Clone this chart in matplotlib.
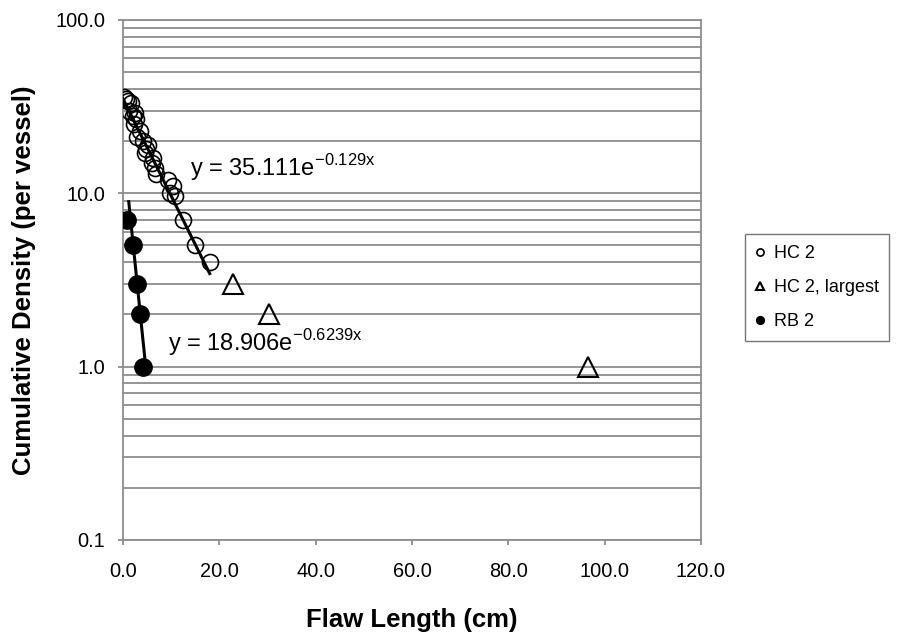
import matplotlib

matplotlib.use("Agg")
import matplotlib.pyplot as plt
import numpy as np
from matplotlib.ticker import FuncFormatter, LogLocator, NullFormatter

plt.rcParams["font.family"] = ["Liberation Sans", "DejaVu Sans"]

# HC 2 flaws: length (cm) vs cumulative count per vessel
hc2_len = [0.2, 0.6, 1.0, 1.6, 1.2, 2.4, 2.1, 2.8, 2.2, 3.6, 2.9, 4.2, 5.2,
           4.8, 4.6, 6.3, 6.0, 6.7, 6.9, 9.4, 10.4, 9.8, 10.8, 12.4, 14.9, 18.0]
hc2_dens = [36, 35, 34, 33, 30, 29, 28, 27, 25, 23, 21, 20, 19,
            18, 17, 16, 15, 14, 13, 12, 11, 10, 9.6, 7, 5, 4]

# HC 2, largest flaws
hc2l_len = [22.9, 30.4, 96.5]
hc2l_dens = [3, 2, 1]

# RB 2 flaws
rb2_len = [0.9, 2.1, 3.0, 3.5, 4.2]
rb2_dens = [7, 5, 3, 2, 1]

# exponential fits y = a * exp(b * x) and the x span each is drawn over
hc2_fit = (35.111, -0.129, 0.0, 18.0)
rb2_fit = (18.906, -0.6239, 1.2, 4.57)

fig = plt.figure(figsize=(9.01, 6.36), dpi=100)
ax = fig.add_axes([0.1365, 0.151, 0.6415, 0.8176])

grid_c = "#8c8c8c"
for a, b, x0, x1 in (hc2_fit, rb2_fit):
    xs = np.linspace(x0, x1, 50)
    ax.plot(xs, a * np.exp(b * xs), color="black", lw=2.2, zorder=3)

ax.plot(hc2_len, hc2_dens, "o", ms=11.5, mfc="none", mec="black", mew=1.2,
        label="HC 2", zorder=4)
ax.plot(hc2l_len, hc2l_dens, "^", ms=14, mfc="none", mec="black", mew=1.5,
        label="HC 2, largest", zorder=4)
ax.plot(rb2_len, rb2_dens, "o", ms=12.5, mfc="black", mec="black",
        label="RB 2", zorder=4)

ax.set_yscale("log")
ax.set_xlim(0, 120)
ax.set_ylim(0.1, 100)
ax.set_xticks(np.arange(0, 121, 20))
ax.xaxis.set_major_formatter(FuncFormatter(lambda v, p: f"{v:.1f}"))
ax.yaxis.set_major_locator(LogLocator(base=10, numticks=10))
ax.yaxis.set_major_formatter(FuncFormatter(lambda v, p: f"{v:.1f}"))
ax.yaxis.set_minor_locator(LogLocator(base=10, subs=range(2, 10), numticks=20))
ax.yaxis.set_minor_formatter(NullFormatter())

ax.grid(True, axis="y", which="both", color=grid_c, lw=1.3)
ax.tick_params(axis="y", which="minor", length=0)
ax.tick_params(axis="both", which="major", labelsize=14.4, length=3.6,
               color=grid_c, width=1.3, direction="out")
ax.tick_params(axis="x", pad=12)
ax.tick_params(axis="y", pad=9)
for s in ax.spines.values():
    s.set_color(grid_c)
    s.set_linewidth(1.3)

ax.text(13.9, 14, r"y = 35.111e$^{\mathregular{-0.129x}}$", fontsize=17,
        va="center", ha="left", zorder=5)
ax.text(9.3, 1.37, r"y = 18.906e$^{\mathregular{-0.6239x}}$", fontsize=17,
        va="center", ha="left", zorder=5)

ax.set_xlabel("Flaw Length (cm)", fontsize=18.5, fontweight="bold",
              labelpad=20)
ax.set_ylabel("Cumulative Density (per vessel)", fontsize=18.5,
              fontweight="bold", labelpad=14)

leg = ax.legend(loc="center left", bbox_to_anchor=(1.06, 0.485), fontsize=13,
                frameon=True, fancybox=False, edgecolor="#555555",
                markerscale=0.45, handlelength=0.5, handletextpad=0.5,
                borderpad=0.6, labelspacing=0.95)
leg.get_frame().set_linewidth(1.0)

fig.savefig("out.png", dpi=100)
